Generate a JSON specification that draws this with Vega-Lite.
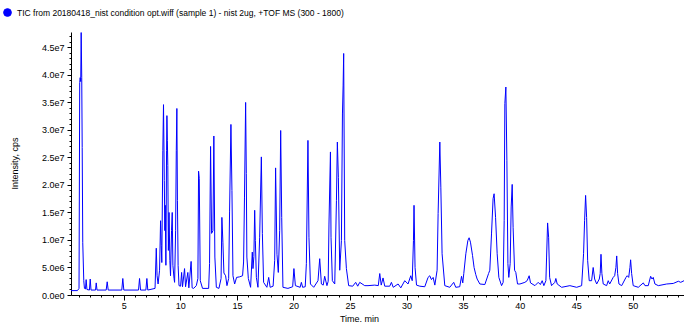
{
  "$schema": "https://vega.github.io/schema/vega-lite/v6.json",
  "width": 613,
  "height": 263,
  "autosize": "none",
  "padding": {"left": 71, "top": 32, "right": 0, "bottom": 27},
  "background": "white",
  "config": {"view": {"stroke": null}, "font": "Liberation Sans"},
  "data": {"values": [
    {"time":0.33,"intensity":800000},{"time":0.90,"intensity":800000},{"time":1.04,"intensity":1200000},{"time":1.10,"intensity":38600000},{"time":1.14,"intensity":39500000},{"time":1.19,"intensity":38800000},{"time":1.23,"intensity":47700000},{"time":1.28,"intensity":39500000},{"time":1.32,"intensity":26800000},{"time":1.37,"intensity":9500000},{"time":1.46,"intensity":2600000},{"time":1.52,"intensity":1200000},{"time":1.61,"intensity":1100000},{"time":1.67,"intensity":2800000},{"time":1.74,"intensity":1000000},{"time":1.96,"intensity":900000},{"time":2.03,"intensity":2900000},{"time":2.10,"intensity":900000},{"time":2.50,"intensity":900000},{"time":2.56,"intensity":2200000},{"time":2.63,"intensity":900000},{"time":3.44,"intensity":900000},{"time":3.53,"intensity":2400000},{"time":3.62,"intensity":900000},{"time":4.82,"intensity":900000},{"time":4.91,"intensity":3000000},{"time":5.00,"intensity":900000},{"time":6.30,"intensity":900000},{"time":6.39,"intensity":3000000},{"time":6.48,"intensity":900000},{"time":6.95,"intensity":900000},{"time":7.04,"intensity":3000000},{"time":7.12,"intensity":900000},
    {"time":7.76,"intensity":1200000},{"time":7.87,"intensity":8500000},{"time":7.94,"intensity":3500000},{"time":8.03,"intensity":2000000},{"time":8.16,"intensity":4500000},{"time":8.25,"intensity":13500000},{"time":8.31,"intensity":9000000},{"time":8.36,"intensity":5900000},{"time":8.45,"intensity":26300000},{"time":8.51,"intensity":34600000},{"time":8.58,"intensity":20800000},{"time":8.63,"intensity":11700000},{"time":8.66,"intensity":16300000},{"time":8.72,"intensity":5400000},{"time":8.78,"intensity":26300000},{"time":8.81,"intensity":32600000},{"time":8.85,"intensity":28100000},{"time":8.89,"intensity":23500000},{"time":8.94,"intensity":8100000},{"time":9.00,"intensity":15000000},{"time":9.07,"intensity":6300000},{"time":9.13,"intensity":3500000},{"time":9.22,"intensity":11700000},{"time":9.28,"intensity":15000000},{"time":9.34,"intensity":5400000},{"time":9.44,"intensity":3000000},{"time":9.49,"intensity":2300000},{"time":9.58,"intensity":11700000},{"time":9.64,"intensity":26300000},{"time":9.69,"intensity":33900000},{"time":9.74,"intensity":17200000},{"time":9.80,"intensity":5400000},{"time":9.88,"intensity":1700000},
    {"time":10.02,"intensity":1600000},{"time":10.11,"intensity":4100000},{"time":10.19,"intensity":1500000},{"time":10.37,"intensity":4800000},{"time":10.46,"intensity":1500000},{"time":10.66,"intensity":4100000},{"time":10.75,"intensity":1300000},{"time":10.95,"intensity":6100000},{"time":11.04,"intensity":1300000},{"time":11.17,"intensity":1200000},{"time":11.41,"intensity":1700000},{"time":11.55,"intensity":3000000},{"time":11.61,"intensity":22500000},{"time":11.67,"intensity":21200000},{"time":11.76,"intensity":2600000},{"time":11.96,"intensity":1200000},{"time":12.50,"intensity":1200000},{"time":12.58,"intensity":5700000},{"time":12.67,"intensity":27000000},{"time":12.76,"intensity":11200000},{"time":12.88,"intensity":11700000},{"time":12.96,"intensity":28900000},{"time":13.05,"intensity":6900000},{"time":13.18,"intensity":1400000},{"time":13.41,"intensity":1200000},{"time":13.60,"intensity":3000000},{"time":13.67,"intensity":14100000},{"time":13.76,"intensity":9600000},{"time":13.85,"intensity":4000000},{"time":14.00,"intensity":3500000},{"time":14.12,"intensity":1700000},{"time":14.27,"intensity":3000000},{"time":14.35,"intensity":15100000},{"time":14.47,"intensity":31000000},{"time":14.56,"intensity":19000000},{"time":14.65,"intensity":3500000},{"time":14.80,"intensity":2000000},{"time":14.97,"intensity":3200000},{"time":15.24,"intensity":3300000},{"time":15.50,"intensity":3500000},{"time":15.59,"intensity":6000000},{"time":15.67,"intensity":17800000},{"time":15.77,"intensity":35000000},{"time":15.83,"intensity":22100000},{"time":15.88,"intensity":6900000},{"time":16.01,"intensity":3000000},{"time":16.21,"intensity":1400000},{"time":16.36,"intensity":7800000},{"time":16.42,"intensity":4800000},{"time":16.50,"intensity":7000000},{"time":16.57,"intensity":15400000},{"time":16.63,"intensity":9900000},{"time":16.72,"intensity":3200000},{"time":16.86,"intensity":1400000},{"time":17.01,"intensity":10500000},{"time":17.16,"intensity":25100000},{"time":17.25,"intensity":11200000},{"time":17.36,"intensity":2300000},{"time":17.65,"intensity":1400000},{"time":17.81,"intensity":3200000},{"time":17.94,"intensity":1400000},{"time":18.20,"intensity":1600000},{"time":18.34,"intensity":6300000},{"time":18.42,"intensity":23100000},{"time":18.54,"intensity":7400000},{"time":18.66,"intensity":4100000},{"time":18.78,"intensity":11700000},{"time":18.87,"intensity":29900000},{"time":18.96,"intensity":14100000},{"time":19.07,"intensity":1400000},{"time":19.51,"intensity":1200000},{"time":19.93,"intensity":1500000},
    {"time":20.04,"intensity":4800000},{"time":20.17,"intensity":1700000},{"time":20.59,"intensity":1400000},{"time":20.70,"intensity":2300000},{"time":20.81,"intensity":1400000},{"time":21.04,"intensity":1500000},{"time":21.14,"intensity":5700000},{"time":21.28,"intensity":28100000},{"time":21.37,"intensity":10500000},{"time":21.50,"intensity":2000000},{"time":21.79,"intensity":1400000},{"time":22.17,"intensity":2600000},{"time":22.32,"intensity":6600000},{"time":22.47,"intensity":2000000},{"time":22.63,"intensity":1800000},{"time":22.76,"intensity":3400000},{"time":22.96,"intensity":1700000},{"time":23.07,"intensity":2500000},{"time":23.14,"intensity":12900000},{"time":23.27,"intensity":26000000},{"time":23.32,"intensity":10500000},{"time":23.44,"intensity":2600000},{"time":23.65,"intensity":2000000},{"time":23.80,"intensity":17200000},{"time":23.88,"intensity":27800000},{"time":23.97,"intensity":21400000},{"time":24.09,"intensity":4500000},{"time":24.24,"intensity":9900000},{"time":24.33,"intensity":32900000},{"time":24.39,"intensity":38000000},{"time":24.44,"intensity":43900000},{"time":24.53,"intensity":9900000},{"time":24.68,"intensity":4800000},{"time":24.88,"intensity":1700000},{"time":25.24,"intensity":1600000},{"time":25.50,"intensity":2300000},{"time":25.68,"intensity":1600000},{"time":25.86,"intensity":2300000},{"time":26.30,"intensity":1700000},{"time":26.59,"intensity":1700000},{"time":27.19,"intensity":1800000},{"time":27.50,"intensity":1700000},{"time":27.63,"intensity":3900000},{"time":27.76,"intensity":1800000},{"time":27.92,"intensity":3100000},{"time":28.07,"intensity":1600000},{"time":28.51,"intensity":1600000},{"time":28.66,"intensity":2300000},{"time":28.82,"intensity":1400000},{"time":29.25,"intensity":2000000},{"time":29.49,"intensity":1300000},{"time":29.84,"intensity":2600000},
    {"time":30.13,"intensity":2000000},{"time":30.37,"intensity":3500000},{"time":30.50,"intensity":2600000},{"time":30.61,"intensity":9900000},{"time":30.66,"intensity":16300000},{"time":30.75,"intensity":5000000},{"time":30.88,"intensity":1800000},{"time":31.17,"intensity":1600000},{"time":31.61,"intensity":1500000},{"time":31.90,"intensity":3200000},{"time":32.05,"intensity":3500000},{"time":32.20,"intensity":2800000},{"time":32.35,"intensity":3200000},{"time":32.50,"intensity":1800000},{"time":32.70,"intensity":4500000},{"time":32.79,"intensity":14800000},{"time":32.94,"intensity":27800000},{"time":33.03,"intensity":19600000},{"time":33.14,"intensity":7500000},{"time":33.38,"intensity":1700000},{"time":33.82,"intensity":1400000},{"time":34.17,"intensity":2300000},{"time":34.35,"intensity":1400000},{"time":34.70,"intensity":1500000},{"time":34.86,"intensity":3400000},{"time":34.97,"intensity":2200000},{"time":35.06,"intensity":3900000},{"time":35.24,"intensity":7500000},{"time":35.42,"intensity":9900000},{"time":35.53,"intensity":10400000},{"time":35.65,"intensity":9600000},{"time":35.83,"intensity":7200000},{"time":35.97,"intensity":5000000},{"time":36.12,"intensity":3700000},{"time":36.24,"intensity":2900000},{"time":36.48,"intensity":2000000},{"time":36.92,"intensity":1900000},{"time":37.25,"intensity":3900000},{"time":37.36,"intensity":4500000},{"time":37.51,"intensity":11100000},{"time":37.65,"intensity":17500000},{"time":37.74,"intensity":18400000},{"time":37.87,"intensity":14100000},{"time":38.01,"intensity":7500000},{"time":38.16,"intensity":3200000},{"time":38.40,"intensity":1700000},{"time":38.54,"intensity":2300000},{"time":38.63,"intensity":13500000},{"time":38.69,"intensity":34800000},{"time":38.78,"intensity":37800000},{"time":38.87,"intensity":24500000},{"time":38.96,"intensity":5700000},{"time":39.04,"intensity":3200000},{"time":39.16,"intensity":5700000},{"time":39.25,"intensity":16000000},{"time":39.34,"intensity":20100000},{"time":39.42,"intensity":12300000},{"time":39.55,"intensity":4500000},{"time":39.66,"intensity":4100000},{"time":39.81,"intensity":2000000},
    {"time":40.02,"intensity":2000000},{"time":40.46,"intensity":2300000},{"time":40.66,"intensity":2600000},{"time":40.84,"intensity":3500000},{"time":40.96,"intensity":2200000},{"time":41.35,"intensity":1700000},{"time":41.64,"intensity":2300000},{"time":41.83,"intensity":1900000},{"time":41.99,"intensity":2600000},{"time":42.14,"intensity":1700000},{"time":42.32,"intensity":2600000},{"time":42.38,"intensity":6900000},{"time":42.47,"intensity":13100000},{"time":42.56,"intensity":10500000},{"time":42.65,"intensity":3200000},{"time":42.82,"intensity":1700000},{"time":43.11,"intensity":2300000},{"time":43.20,"intensity":3000000},{"time":43.32,"intensity":2000000},{"time":43.71,"intensity":1400000},{"time":44.44,"intensity":1700000},{"time":45.04,"intensity":1400000},{"time":45.48,"intensity":1700000},{"time":45.65,"intensity":7500000},{"time":45.74,"intensity":13500000},{"time":45.83,"intensity":18100000},{"time":45.92,"intensity":14100000},{"time":46.01,"intensity":6300000},{"time":46.15,"intensity":2600000},{"time":46.36,"intensity":2600000},{"time":46.50,"intensity":5000000},{"time":46.63,"intensity":2900000},{"time":46.81,"intensity":2000000},{"time":47.04,"intensity":2900000},{"time":47.12,"intensity":3900000},{"time":47.19,"intensity":7400000},{"time":47.27,"intensity":3900000},{"time":47.39,"intensity":2000000},{"time":47.69,"intensity":1700000},{"time":47.83,"intensity":2600000},{"time":47.96,"intensity":2000000},{"time":48.27,"intensity":3200000},{"time":48.40,"intensity":3500000},{"time":48.51,"intensity":5000000},{"time":48.58,"intensity":7100000},{"time":48.66,"intensity":3900000},{"time":48.78,"intensity":2000000},{"time":49.02,"intensity":1700000},{"time":49.40,"intensity":3200000},{"time":49.51,"intensity":3500000},{"time":49.64,"intensity":3200000},{"time":49.75,"intensity":5000000},{"time":49.81,"intensity":6400000},{"time":49.90,"intensity":3900000},{"time":50.04,"intensity":1700000},{"time":50.49,"intensity":1400000},{"time":50.93,"intensity":2200000},{"time":51.08,"intensity":1700000},{"time":51.37,"intensity":1700000},{"time":51.58,"intensity":3400000},{"time":51.70,"intensity":2900000},{"time":51.81,"intensity":3200000},{"time":51.96,"intensity":2000000},{"time":52.26,"intensity":1700000},{"time":53.00,"intensity":2000000},{"time":53.58,"intensity":2100000},{"time":54.03,"intensity":2500000},{"time":54.24,"intensity":2300000},{"time":54.53,"intensity":2600000}
  ]},
  "mark": {"type": "line", "strokeWidth": 1, "clip": true},
  "encoding": {
    "x": {
      "field": "time", "type": "quantitative",
      "scale": {"domain": [0.33, 54.53], "nice": false, "zero": false},
      "axis": {
        "title": "Time, min",
        "values": [1,2,3,4,5,6,7,8,9,10,11,12,13,14,15,16,17,18,19,20,21,22,23,24,25,26,27,28,29,30,31,32,33,34,35,36,37,38,39,40,41,42,43,44,45,46,47,48,49,50,51,52,53,54],
        "labelExpr": "datum.value % 5 === 0 ? datum.label : ''",
        "tickSize": 5,
        "tickDash": {"condition": {"test": "datum.value % 5 === 0", "value": [5, 0]}, "value": [2, 8]},
        "grid": false,
        "domainColor": "#000000", "tickColor": "#000000", "labelColor": "#000000",
        "labelFontSize": 9, "labelPadding": 1, "labelFlush": false, "labelOverlap": false,
        "titleFontSize": 9, "titleFontWeight": "normal", "titleColor": "#000000",
        "titleX": 288, "titleY": 19, "titleBaseline": "top", "titleAlign": "center"
      }
    },
    "y": {
      "field": "intensity", "type": "quantitative",
      "scale": {"domain": [0, 47800000], "nice": false},
      "axis": {
        "title": "Intensity, cps",
        "values": [0,1000000,2000000,3000000,4000000,5000000,6000000,7000000,8000000,9000000,10000000,11000000,12000000,13000000,14000000,15000000,16000000,17000000,18000000,19000000,20000000,21000000,22000000,23000000,24000000,25000000,26000000,27000000,28000000,29000000,30000000,31000000,32000000,33000000,34000000,35000000,36000000,37000000,38000000,39000000,40000000,41000000,42000000,43000000,44000000,45000000,46000000,47000000],
        "labelExpr": "datum.value % 5000000 === 0 ? replace(format(datum.value, '.1e'), '+', '') : ''",
        "tickSize": 4,
        "tickDash": {"condition": {"test": "datum.value % 5000000 === 0", "value": [4, 0]}, "value": [2, 8]},
        "grid": false,
        "domainColor": "#000000", "tickColor": "#000000", "labelColor": "#000000",
        "labelFontSize": 9, "labelPadding": 3, "labelOverlap": false, "labelFlush": false,
        "titleFontSize": 9, "titleFontWeight": "normal", "titleColor": "#000000",
        "titleX": -57, "titleY": 131, "titleAlign": "center", "titleBaseline": "middle"
      }
    },
    "color": {
      "datum": "TIC from 20180418_nist condition opt.wiff (sample 1) - nist 2ug, +TOF MS (300 - 1800)",
      "type": "nominal",
      "scale": {"range": ["#0000ff"]},
      "legend": {
        "title": null, "orient": "none", "legendX": -68, "legendY": -24,
        "padding": 0, "symbolType": "circle", "symbolSize": 60,
        "symbolFillColor": "#0000ff", "symbolStrokeColor": "#00008b", "symbolStrokeWidth": 1,
        "labelFontSize": 8.5, "labelColor": "#000000", "labelLimit": 1000, "labelOffset": 5,
        "encode": {"symbols": {"update": {"fill": {"value": "#0000ff"}, "stroke": {"value": "#00008b"}, "shape": {"value": "circle"}}}}
      }
    }
  }
}
